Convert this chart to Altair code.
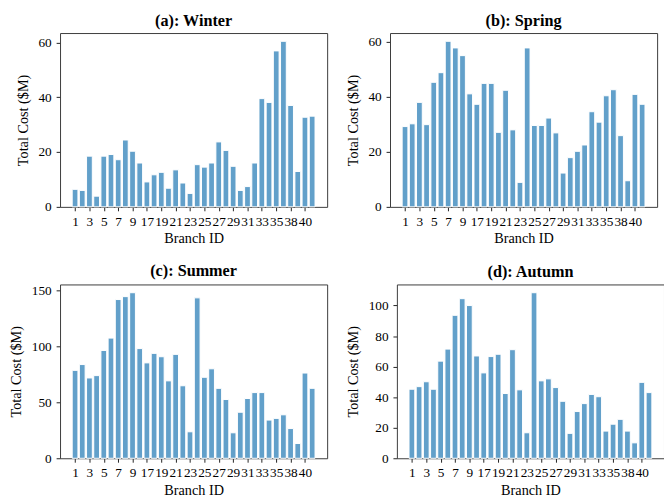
import altair as alt
import pandas as pd

branches = [1, 2, 3, 4, 5, 6, 7, 8, 9, 10,
            17, 18, 19, 20, 21, 22, 23, 24, 25, 26, 27, 28, 29, 30, 31, 32, 33, 34, 35, 36,
            38, 39, 40, 41]
shown_ticks = [1, 3, 5, 7, 9, 17, 19, 21, 23, 25, 27, 29, 31, 33, 35, 38, 40]

winter = [6.4, 6.0, 18.5, 3.9, 18.5, 19.1, 17.2, 24.4, 20.3, 16.0,
          9.1, 11.7, 12.6, 6.8, 13.5, 8.7, 4.9, 15.4, 14.5, 16.0, 23.7, 20.6, 14.8, 6.0, 7.4, 16.0, 39.5, 38.1, 56.9, 60.4,
          37.0, 12.9, 32.7, 33.1]
spring = [29.2, 30.2, 38.0, 29.9, 45.3, 48.8, 60.2, 57.8, 55.0, 41.1,
          37.3, 44.9, 44.9, 27.1, 42.4, 28.0, 8.9, 57.8, 29.6, 29.6, 32.3, 26.9, 12.3, 17.9, 20.2, 22.5, 34.6, 30.8, 40.4, 42.6,
          25.9, 9.5, 40.9, 37.3]
summer = [78.7, 83.9, 71.9, 74.0, 96.5, 107.6, 142.1, 144.7, 148.2, 98.2,
          85.4, 93.9, 90.9, 69.3, 93.0, 64.9, 23.7, 143.6, 72.5, 80.1, 62.6, 52.6, 22.8, 41.2, 53.5, 58.8, 58.8, 34.2, 35.7, 38.9,
          26.6, 13.2, 76.3, 62.6]
autumn = [45.2, 46.9, 50.1, 45.2, 63.6, 71.5, 93.6, 104.5, 100.0, 67.0,
          55.9, 66.6, 68.1, 42.4, 71.1, 44.8, 16.7, 108.4, 50.7, 52.0, 46.3, 37.3, 16.3, 30.6, 35.8, 41.8, 40.3, 17.8, 22.3, 25.5,
          17.8, 10.1, 49.7, 43.0]

panels = [
    ("(a): Winter", winter, [0, 20, 40, 60]),
    ("(b): Spring", spring, [0, 20, 40, 60]),
    ("(c): Summer", summer, [0, 50, 100, 150]),
    ("(d): Autumn", autumn, [0, 20, 40, 60, 80, 100]),
]

FONT = "Liberation Serif"
BAR = "#62a0ca"
FRAME = "#3a3a3a"
n = len(branches)
tick_idx = [branches.index(b) for b in shown_ticks]
label_array = "[" + ",".join("'%d'" % b for b in branches) + "]"
margin = 0.05 * (n - 1 + 0.8)
xdom = [-0.4 - margin, n - 1 + 0.4 + margin]

common = dict(
    domain=True, domainColor=FRAME, domainWidth=1, grid=False,
    tickColor="#222222", tickSize=4, tickWidth=1,
    labelFont=FONT, labelFontSize=13.5, labelColor="black",
    titleFont=FONT, titleFontSize=14.5, titleFontWeight="normal", titleColor="black",
)
frame_axis = dict(domain=True, domainColor=FRAME, domainWidth=1, grid=False,
                  labels=False, ticks=False, title=None)


def panel(title, values, yticks):
    df = pd.DataFrame({"idx": list(range(n)), "branch": branches, "cost": values})
    ymax = max(values) * 1.05
    base = alt.Chart(df).transform_calculate(
        x0="datum.idx - 0.4", x1="datum.idx + 0.4"
    )
    xscale = alt.Scale(domain=xdom, nice=False, zero=False)
    yscale = alt.Scale(domain=[0, ymax], nice=False, zero=True)
    bars = base.mark_bar(color=BAR, stroke="white", strokeWidth=1).encode(
        x=alt.X("x0:Q", scale=xscale,
                axis=alt.Axis(values=tick_idx, labelExpr=label_array + "[datum.value]",
                              labelAngle=0, labelOverlap=False, labelFlush=False,
                              labelPadding=4, titlePadding=4,
                              title="Branch ID", **common)),
        x2="x1:Q",
        y=alt.Y("cost:Q", scale=yscale,
                axis=alt.Axis(values=yticks, title="Total Cost ($M)",
                              labelPadding=5, titlePadding=8, **common)),
        y2=alt.datum(0),
    )
    frame = base.mark_bar(opacity=0).encode(
        x=alt.X("x0:Q", scale=xscale, axis=alt.Axis(orient="top", **frame_axis)),
        x2="x1:Q",
        y=alt.Y("cost:Q", scale=yscale, axis=alt.Axis(orient="right", **frame_axis)),
        y2=alt.datum(0),
    )
    return alt.layer(bars, frame).resolve_axis(
        x="independent", y="independent"
    ).properties(
        width=272, height=177,
        title=alt.TitleParams(title, font=FONT, fontSize=16.5, fontWeight="bold",
                              color="black", offset=4),
    )


charts = [panel(*p) for p in panels]

chart = alt.vconcat(
    alt.hconcat(charts[0], charts[1], spacing=18),
    alt.hconcat(charts[2], charts[3], spacing=18),
    spacing=18,
).properties(
    padding={"left": 0, "top": 0, "right": 0, "bottom": 0}
).configure(
    font=FONT
).configure_view(
    stroke=None
)

chart.save("out.html", embed_options={"renderer": "svg", "actions": False})
